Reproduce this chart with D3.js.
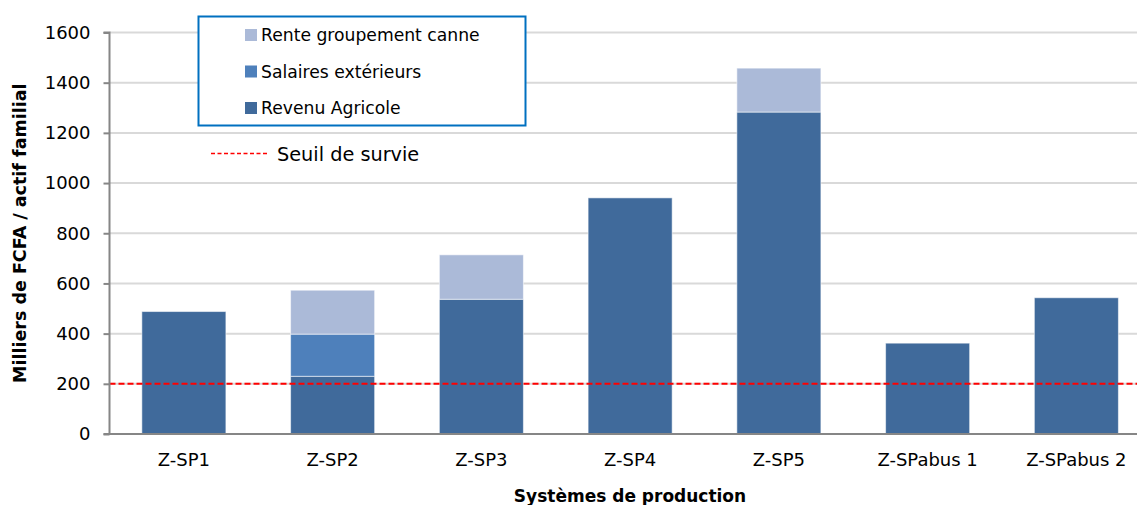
<!DOCTYPE html>
<html>
<head>
<meta charset="utf-8">
<script src="https://cdn.jsdelivr.net/npm/d3@7"></script>
<style>
  html, body { margin: 0; padding: 0; background: #fff; }
  svg { display: block; font-family: "DejaVu Sans", sans-serif; }
</style>
</head>
<body>
<svg id="chart" width="1137" height="505"></svg>
<script>
// Income per family worker (thousand FCFA) by production system
const categories = ["Z-SP1", "Z-SP2", "Z-SP3", "Z-SP4", "Z-SP5", "Z-SPabus 1", "Z-SPabus 2"];
const revenuAgricole = [488, 230, 537, 941, 1283, 362, 543];
const salairesExterieurs = [0, 168, 0, 0, 0, 0, 0];
const renteGroupement = [0, 175, 177, 0, 175, 0, 0];
const seriesNames = ["Revenu Agricole", "Salaires extérieurs", "Rente groupement canne"];
const seriesColors = ["#406a9b", "#4e80bb", "#abbad8"];
const yTicks = [0, 200, 400, 600, 800, 1000, 1200, 1400, 1600];
const seuilSurvie = 200;

const svg = d3.select("#chart");
const W = 1137, H = 505;
const x0 = 109.5, x1 = W;           // visible plot area
const y0 = 434, y1 = 32.5;
const step = 148.75;                // category spacing (band range runs past the right edge)

const x = d3.scaleBand().domain(categories)
  .range([x0, x0 + step * categories.length])
  .paddingInner(0.435).paddingOuter(0.2175);
const y = d3.scaleLinear().domain([0, 1600]).range([y0, y1]);

// Gridlines
svg.append("g").selectAll("line").data(yTicks.filter(d => d > 0)).join("line")
  .attr("x1", x0).attr("x2", x1)
  .attr("y1", d => y(d)).attr("y2", d => y(d))
  .attr("stroke", "#d9d9d9").attr("stroke-width", 2);

// Stacked bars
const rows = categories.map((c, i) => ({
  cat: c, r: revenuAgricole[i], s: salairesExterieurs[i], g: renteGroupement[i]
}));
const stack = d3.stack().keys(["r", "s", "g"]);
const layers = stack(rows);
svg.append("g").selectAll("g").data(layers).join("g")
  .attr("fill", (d, i) => seriesColors[i])
  .selectAll("rect").data(d => d.filter(p => p[1] > p[0])).join("rect")
  .attr("x", d => x(d.data.cat))
  .attr("width", x.bandwidth())
  .attr("y", d => y(d[1]))
  .attr("height", d => y(d[0]) - y(d[1]))
  .attr("stroke", "rgba(255,255,255,0.55)")
  .attr("stroke-width", 1);

// Survival threshold
svg.append("line")
  .attr("x1", x0).attr("x2", x1)
  .attr("y1", y(seuilSurvie)).attr("y2", y(seuilSurvie))
  .attr("stroke", "#ff0000").attr("stroke-width", 2)
  .attr("stroke-dasharray", "6,3");

// Y axis
const yAxis = d3.axisLeft(y).tickValues(yTicks).tickSize(6).tickPadding(13).tickFormat(d3.format("d"));
const gy = svg.append("g").attr("transform", `translate(${x0},0)`).call(yAxis);
gy.select(".domain").attr("stroke", "#868686").attr("stroke-width", 2).attr("d", `M-6,${y1}H0V${y0}H-6`);
gy.selectAll(".tick line").attr("stroke", "#868686").attr("stroke-width", 2);
gy.selectAll(".tick text").attr("font-size", 18).attr("fill", "#000").attr("font-family", "DejaVu Sans");

// X axis
const xAxis = d3.axisBottom(x).tickSize(0).tickPadding(19);
const gx = svg.append("g").attr("transform", `translate(0,${y0})`).call(xAxis);
gx.select(".domain").attr("stroke", "#868686").attr("stroke-width", 2).attr("d", `M${x0},0H${x1}`);
gx.selectAll(".tick text").attr("font-size", 18).attr("fill", "#000").attr("font-family", "DejaVu Sans");

// Axis titles
svg.append("text")
  .attr("transform", `translate(26,${(y0 + y1) / 2}) rotate(-90)`)
  .attr("text-anchor", "middle")
  .attr("font-weight", "bold").attr("font-size", 17.5)
  .text("Milliers de FCFA / actif familial");
svg.append("text")
  .attr("x", 630).attr("y", 502)
  .attr("text-anchor", "middle")
  .attr("font-weight", "bold").attr("font-size", 17)
  .text("Systèmes de production");

// Legend
const legend = svg.append("g");
legend.append("rect")
  .attr("x", 198.5).attr("y", 16.5).attr("width", 327).attr("height", 109)
  .attr("fill", "#fff").attr("stroke", "#0070c0").attr("stroke-width", 2);
const legendItems = [
  { name: seriesNames[2], color: seriesColors[2] },
  { name: seriesNames[1], color: seriesColors[1] },
  { name: seriesNames[0], color: seriesColors[0] }
];
legendItems.forEach((it, i) => {
  const cy = 35 + i * 36.5;
  legend.append("rect").attr("x", 245).attr("y", cy - 6).attr("width", 12).attr("height", 12).attr("fill", it.color);
  legend.append("text").attr("x", 261).attr("y", cy).attr("dy", "0.35em")
    .attr("font-size", 17.2).attr("fill", "#000").text(it.name);
});
legend.append("line").attr("x1", 211).attr("x2", 268).attr("y1", 153.5).attr("y2", 153.5)
  .attr("stroke", "#ff0000").attr("stroke-width", 1.5).attr("stroke-dasharray", "4,2.5");
legend.append("text").attr("x", 277).attr("y", 154).attr("dy", "0.35em")
  .attr("font-size", 19.3).attr("fill", "#000").text("Seuil de survie");
</script>
</body>
</html>
